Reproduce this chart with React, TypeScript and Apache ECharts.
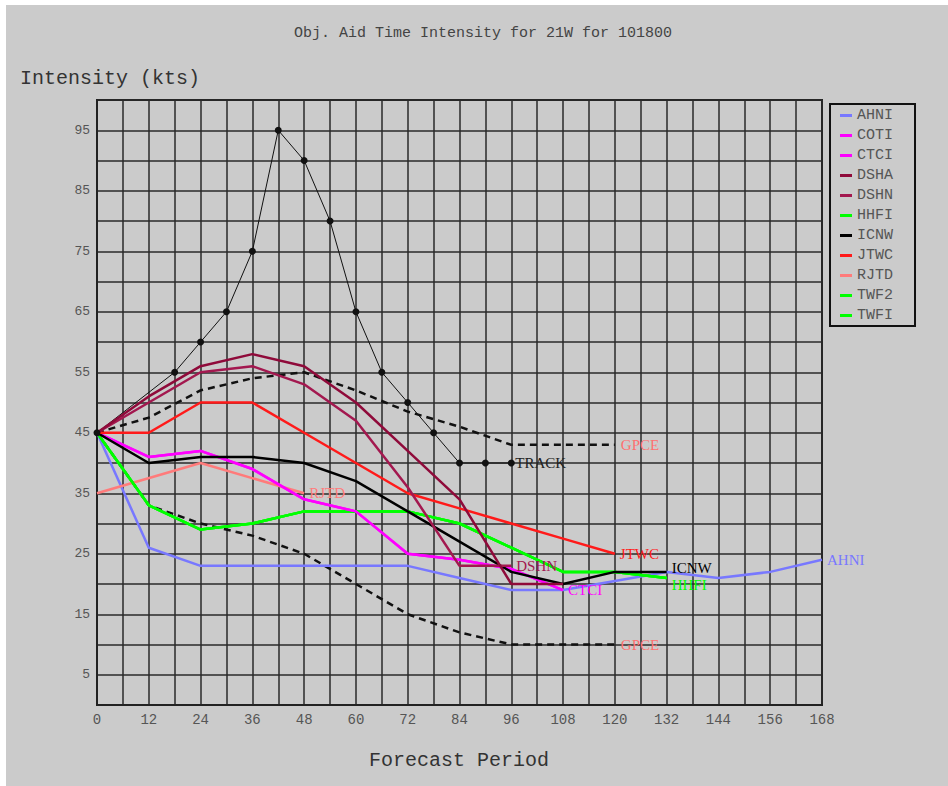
import React, { useEffect, useRef } from "react";
import * as echarts from "echarts";

const hours12 = [0, 12, 24, 36, 48, 60, 72, 84, 96, 108, 120, 132, 144, 156, 168];

const ahni = [45, 26, 23, 23, 23, 23, 23, 21, 19, 19, 20.5, 22, 21, 22, 24];
const coti = [45, 41, 42, 39, 34, 32, 25, 24, 22.5, 19];
const ctci = [45, 41, 42, 39, 34, 32, 25, 24, 22.5, 19];
const dsha = [45, 51, 56, 58, 56, 50, 42, 34, 20, 20];
const dshn = [45, 50, 55, 56, 53, 47, 36, 23, 23];
const hhfi = [45, 33, 29, 30, 32, 32, 32, 30, 26, 22, 22, 21];
const icnw = [45, 40, 41, 41, 40, 37, 32, 27, 22, 20, 22, 22];
const jtwc = [45, 45, 50, 50, 45, 40, 35, 32.5, 30, 27.5, 25];
const rjtdHours = [0, 24, 48];
const rjtd = [35, 40, 35];
const twf2 = [45, 33, 29, 30, 32, 32, 32, 30, 26, 22, 22, 21];
const twfi = [45, 33, 29, 30, 32, 32, 32, 30, 26, 22, 22, 21];
const gpceUpper = [45, 47.5, 52, 54, 55, 52, 48.5, 46, 43, 43, 43];
const gpceLower = [45, 33, 30, 28, 25, 20, 15, 12, 10, 10, 10];
const trackHours = [0, 18, 24, 30, 36, 42, 48, 54, 60, 66, 72, 78, 84, 90, 96];
const track = [45, 55, 60, 65, 75, 95, 90, 80, 65, 55, 50, 45, 40, 40, 40];

const legendNames = ["AHNI", "COTI", "CTCI", "DSHA", "DSHN", "HHFI", "ICNW", "JTWC", "RJTD", "TWF2", "TWFI"];

const MONO = "'Liberation Mono', 'DejaVu Sans Mono', monospace";
const SERIF = "'Liberation Serif', 'DejaVu Serif', serif";

function pairs(xs: number[], ys: number[]) {
  return ys.map((v, i) => [xs[i], v]);
}

function model(
  name: string,
  values: number[],
  color: string,
  label?: string,
  xs: number[] = hours12,
  offset: number[] = [0, 0]
) {
  return {
    name,
    type: "line",
    data: pairs(xs, values),
    showSymbol: false,
    symbol: "none",
    lineStyle: { color, width: 2.5 },
    itemStyle: { color },
    endLabel: label
      ? { show: true, formatter: label, color, fontFamily: SERIF, fontSize: 15, distance: 5, offset }
      : { show: false },
  };
}

export default function App() {
  const ref = useRef<HTMLDivElement>(null);
  useEffect(() => {
    if (!ref.current) return;
    const chart = echarts.init(ref.current, undefined, { renderer: "svg" });
    const gpceStyle = (values: number[]) => ({
      name: "GPCE",
      type: "line",
      data: pairs(hours12, values),
      showSymbol: false,
      symbol: "none",
      lineStyle: { color: "#111", width: 2.5, type: [7, 5] },
      itemStyle: { color: "#111" },
      endLabel: { show: true, formatter: "GPCE", color: "#ff7070", fontFamily: SERIF, fontSize: 15, distance: 6 },
    });
    chart.setOption({
      animation: false,
      backgroundColor: "#cbcbcb",
      graphic: [
        { type: "rect", shape: { x: 0, y: 0, width: 948, height: 5 }, style: { fill: "#ffffff" }, silent: true },
        { type: "rect", shape: { x: 0, y: 0, width: 6, height: 786 }, style: { fill: "#ffffff" }, silent: true },
        {
          type: "text",
          x: 483,
          y: 33,
          style: { text: "Obj. Aid Time Intensity for 21W for 101800", font: `15px ${MONO}`, fill: "#444", textAlign: "center", textVerticalAlign: "middle" },
        },
        {
          type: "text",
          x: 20,
          y: 78,
          style: { text: "Intensity (kts)", font: `20px ${MONO}`, fill: "#333", textAlign: "left", textVerticalAlign: "middle" },
        },
        {
          type: "text",
          x: 459,
          y: 760,
          style: { text: "Forecast Period", font: `20px ${MONO}`, fill: "#333", textAlign: "center", textVerticalAlign: "middle" },
        },
      ],
      legend: {
        data: legendNames,
        orient: "vertical",
        left: 830,
        top: 104,
        icon: "rect",
        itemWidth: 12,
        itemHeight: 3,
        itemGap: 5,
        padding: [4, 22, 3, 10],
        borderColor: "#111",
        borderWidth: 2,
        selectedMode: false,
        textStyle: { color: "#555", fontFamily: MONO, fontSize: 15, lineHeight: 14 },
      },
      grid: { left: 97, right: 126, top: 100, bottom: 81, show: true, borderColor: "#222", borderWidth: 2 },
      xAxis: {
        type: "value",
        min: 0,
        max: 168,
        interval: 6,
        axisLine: { show: true, lineStyle: { color: "#222", width: 2 } },
        axisTick: { show: false },
        splitLine: { show: true, lineStyle: { color: "#2a2a2a", width: 1.5 } },
        axisLabel: {
          formatter: (v: number) => (v % 12 === 0 ? String(v) : ""),
          color: "#555",
          fontFamily: MONO,
          fontSize: 14,
          margin: 8,
        },
      },
      yAxis: {
        type: "value",
        min: 0,
        max: 100,
        interval: 5,
        axisLine: { show: true, lineStyle: { color: "#222", width: 2 } },
        axisTick: { show: false },
        splitLine: { show: true, lineStyle: { color: "#2a2a2a", width: 1.5 } },
        axisLabel: {
          formatter: (v: number) => (v % 10 === 5 ? String(v) : ""),
          color: "#555",
          fontFamily: MONO,
          fontSize: 13,
          margin: 7,
        },
      },
      series: [
        gpceStyle(gpceUpper),
        gpceStyle(gpceLower),
        {
          name: "TRACK",
          type: "line",
          data: pairs(trackHours, track),
          symbol: "circle",
          symbolSize: 7,
          showSymbol: true,
          lineStyle: { color: "#111", width: 1 },
          itemStyle: { color: "#111" },
          endLabel: { show: true, formatter: "TRACK", color: "#222", fontFamily: SERIF, fontSize: 15, distance: 4 },
        },
        model("AHNI", ahni, "#7878ff", "AHNI"),
        model("RJTD", rjtd, "#ff7b7b", "RJTD", rjtdHours),
        model("TWF2", twf2, "#00ff00"),
        model("TWFI", twfi, "#00ff00"),
        model("HHFI", hhfi, "#00ff00", "HHFI", hours12, [0, 7]),
        model("COTI", coti, "#ff00ff"),
        model("CTCI", ctci, "#ff00ff", "CTCI"),
        model("ICNW", icnw, "#000000", "ICNW", hours12, [0, -4]),
        model("JTWC", jtwc, "#ff1a1a", "JTWC"),
        model("DSHN", dshn, "#a3184f", "DSHN"),
        model("DSHA", dsha, "#8f0a3a"),
      ],
    });
    return () => chart.dispose();
  }, []);
  return <div ref={ref} style={{ position: "absolute", left: 0, top: 0, width: 948, height: 786 }} />;
}
